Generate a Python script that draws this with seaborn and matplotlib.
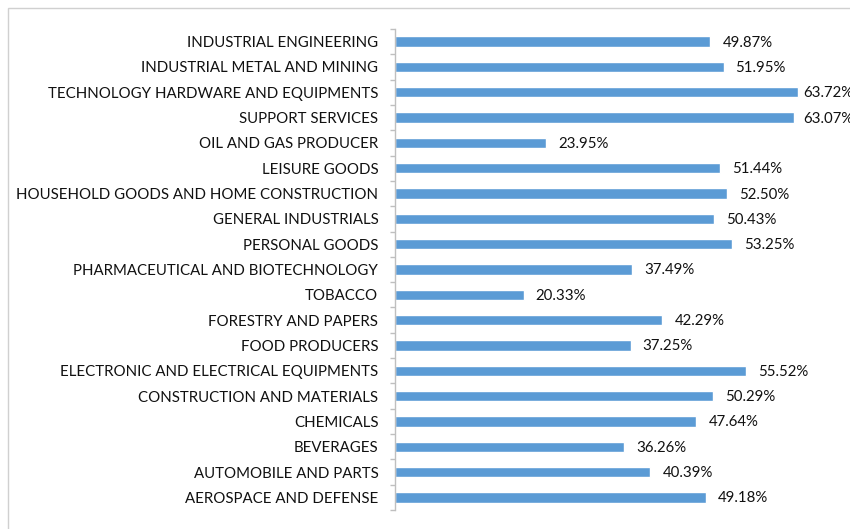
import numpy as np
import pandas as pd
import matplotlib
matplotlib.use("Agg")
import matplotlib.pyplot as plt
from matplotlib.patches import Rectangle
from matplotlib.ticker import FixedLocator
import seaborn as sns

SECTORS = [
    "INDUSTRIAL ENGINEERING",
    "INDUSTRIAL METAL AND MINING",
    "TECHNOLOGY HARDWARE AND EQUIPMENTS",
    "SUPPORT SERVICES",
    "OIL AND GAS PRODUCER",
    "LEISURE GOODS",
    "HOUSEHOLD GOODS AND HOME CONSTRUCTION",
    "GENERAL INDUSTRIALS",
    "PERSONAL GOODS",
    "PHARMACEUTICAL AND BIOTECHNOLOGY",
    "TOBACCO",
    "FORESTRY AND PAPERS",
    "FOOD PRODUCERS",
    "ELECTRONIC AND ELECTRICAL EQUIPMENTS",
    "CONSTRUCTION AND MATERIALS",
    "CHEMICALS",
    "BEVERAGES",
    "AUTOMOBILE AND PARTS",
    "AEROSPACE AND DEFENSE",
]
SHARES = [49.87, 51.95, 63.72, 63.07, 23.95, 51.44, 52.50, 50.43, 53.25, 37.49,
          20.33, 42.29, 37.25, 55.52, 50.29, 47.64, 36.26, 40.39, 49.18]

BAR_COLOR = "#5B9BD5"
W, H = 850, 529

sns.set_style("white")
plt.rcParams["font.family"] = ["Lato", "DejaVu Sans"]

df = pd.DataFrame({"sector": SECTORS, "share": SHARES})

fig = plt.figure(figsize=(W / 100, H / 100), dpi=100)
ax_left, ax_top, ax_bot = 395, 29, 510
ax = fig.add_axes([ax_left / W, 1 - ax_bot / H, (W - ax_left) / W, (ax_bot - ax_top) / H])

sns.barplot(data=df, x="share", y="sector", color=BAR_COLOR, saturation=1,
            width=0.41, ax=ax)

# 6.325 px per percentage point
ax.set_xlim(0, (W - ax_left) / 6.325)
ax.set_ylim(len(SECTORS) - 0.5, -0.5)

for s in ["top", "right", "bottom"]:
    ax.spines[s].set_visible(False)
ax.spines["left"].set_color("#bfbfbf")
ax.spines["left"].set_linewidth(1.0)
ax.set_xticks([])
ax.set_xlabel("")
ax.set_ylabel("")
ax.yaxis.set_minor_locator(FixedLocator(np.arange(-0.5, len(SECTORS), 1.0)))
ax.tick_params(axis="y", which="major", length=0, pad=12, labelsize=10.8, labelcolor="#111111")
ax.tick_params(axis="y", which="minor", length=3.6, width=1.0, color="#bfbfbf", left=True)

texts = []
for i, v in enumerate(SHARES):
    t = ax.annotate(f"{v:.2f}%", xy=(v, i), xytext=(12, -1), textcoords="offset pixels",
                    ha="left", va="center", fontsize=10.8, color="#111111",
                    annotation_clip=False)
    texts.append((t, i))

# keep labels inside the chart area like the original
fig.canvas.draw()
renderer = fig.canvas.get_renderer()
for t, i in texts:
    bb = t.get_window_extent(renderer)
    if bb.x1 > W + 2:
        t.set_ha("right")
        t.xy = (ax.get_xlim()[1], i)
        t.set_position((3, -1))

# outer chart border (cropped on the right and bottom)
fig.add_artist(Rectangle((8 / W, -0.05), 1.2, 1 - 8 / H + 0.05, transform=fig.transFigure,
                         fill=False, edgecolor="#d0d0d0", linewidth=1.0, zorder=0))

fig.savefig("out.png", dpi=100)
